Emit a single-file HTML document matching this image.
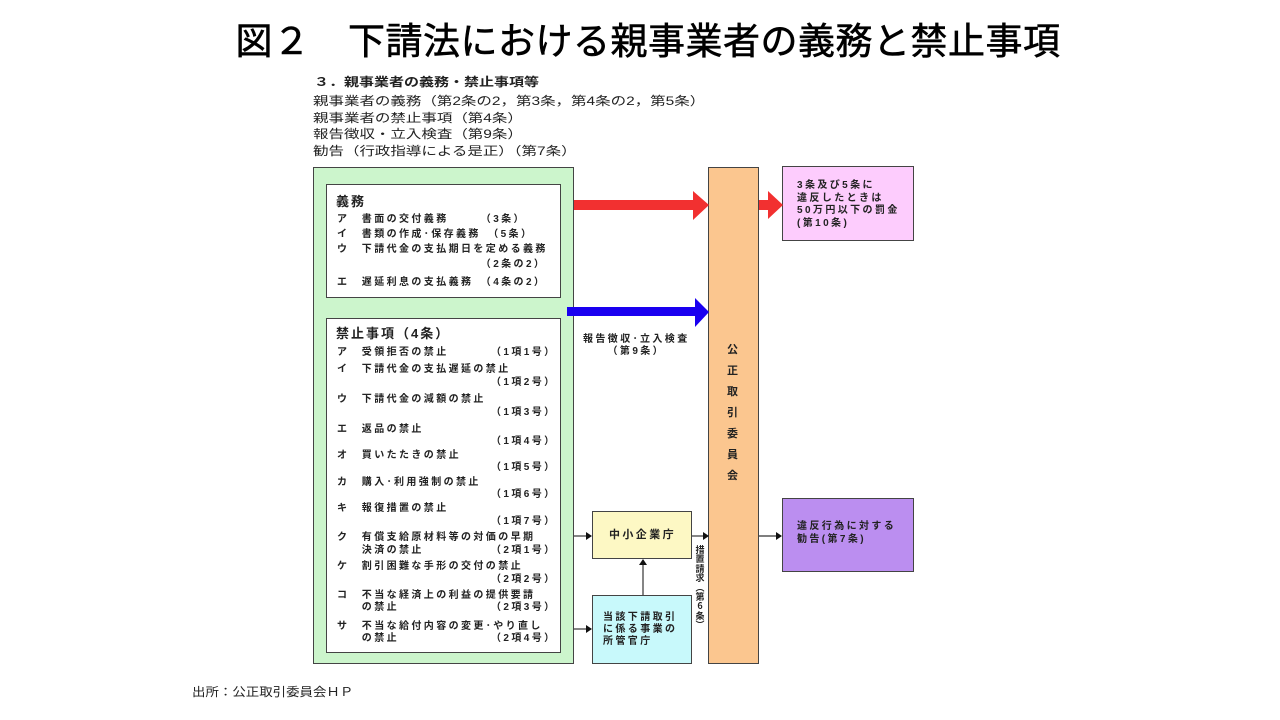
<!DOCTYPE html>
<html><head><meta charset="utf-8">
<style>
body{margin:0;width:1280px;height:720px;background:#fff;position:relative;overflow:hidden;font-family:"Liberation Sans","Noto Sans CJK JP",sans-serif;color:#222}
.a{position:absolute;white-space:nowrap}
.box{position:absolute;box-sizing:border-box;border:1.5px solid #444}
.s{font-size:10px;font-weight:bold;line-height:12px;letter-spacing:2.4px}
</style></head><body>
<div class="a" style="left:8px;width:1280px;text-align:center;top:18px;font-size:37px;line-height:48px;color:#000;font-weight:normal;letter-spacing:0.5px;-webkit-text-stroke:0.6px #000">図２　下請法における親事業者の義務と禁止事項</div>
<div class="a" style="left:314px;top:74px;font-size:12px;font-weight:bold;line-height:16px;transform:scaleX(1.25);transform-origin:left">３．親事業者の義務・禁止事項等</div>
<div class="a" style="left:313px;top:93px;font-size:12px;line-height:16.7px;transform:scaleX(1.29);transform-origin:left">親事業者の義務（第2条の2，第3条，第4条の2，第5条）<br>親事業者の禁止事項（第4条）<br>報告徴収・立入検査（第9条）<br>勧告（行政指導による是正）（第7条）</div>

<div class="box" style="left:313px;top:167px;width:261px;height:497px;background:#ccf5cc"></div>
<div class="box" style="left:326px;top:184px;width:235px;height:114px;background:#fff"></div>
<div class="a" style="left:336px;top:191px;font-size:13px;font-weight:bold;letter-spacing:2px">義務</div>
<div class="a s" style="left:337px;top:212px;line-height:15px">ア　書面の交付義務　　　（3条）<br>イ　書類の作成･保存義務　（5条）<br>ウ　下請代金の支払期日を定める義務<br>　　　　　　　　　　　　（2条の2）</div>
<div class="a s" style="left:337px;top:277px">エ　遅延利息の支払義務　（4条の2）</div>

<div class="box" style="left:326px;top:318px;width:235px;height:335px;background:#fff"></div>
<div class="a" style="left:336px;top:323px;font-size:13px;font-weight:bold;letter-spacing:2px">禁止事項（4条）</div>
<div class="a s" style="left:337px;top:347px;line-height:12.4px">
ア　受領拒否の禁止　　　 （1項1号）<br><div style="height:5px"></div>
イ　下請代金の支払遅延の禁止<br>　　　　　　　　　　　　 （1項2号）<br><div style="height:5px"></div>
ウ　下請代金の減額の禁止<br>　　　　　　　　　　　　 （1項3号）<br><div style="height:5px"></div>
エ　返品の禁止<br>　　　　　　　　　　　　 （1項4号）<br><div style="height:1px"></div>
オ　買いたたきの禁止<br>　　　　　　　　　　　　 （1項5号）<br><div style="height:2px"></div>
カ　購入･利用強制の禁止<br>　　　　　　　　　　　　 （1項6号）<br><div style="height:2px"></div>
キ　報復措置の禁止<br>　　　　　　　　　　　　 （1項7号）<br><div style="height:4px"></div>
ク　有償支給原材料等の対価の早期<br>　　決済の禁止　　　　　 （2項1号）<br><div style="height:4px"></div>
ケ　割引困難な手形の交付の禁止<br>　　　　　　　　　　　　 （2項2号）<br><div style="height:4px"></div>
コ　不当な経済上の利益の提供要請<br>　　の禁止　　　　　　　 （2項3号）<br><div style="height:6px"></div>
サ　不当な給付内容の変更･やり直し<br>　　の禁止　　　　　　　 （2項4号）</div>

<div class="box" style="left:708px;top:167px;width:51px;height:497px;background:#fbc68f"></div>
<div class="a s" style="left:727px;top:340px;width:14px;white-space:normal;line-height:21px;font-size:11px;letter-spacing:0">公正取引委員会</div>

<div class="box" style="left:782px;top:166px;width:132px;height:75px;background:#fdccfd"></div>
<div class="a s" style="left:797px;top:180px;line-height:12.5px">3条及び5条に<br>違反したときは<br>50万円以下の罰金<br>(第10条)</div>
<div class="box" style="left:782px;top:498px;width:132px;height:74px;background:#bb8ef0"></div>
<div class="a s" style="left:797px;top:521px;line-height:12.5px">違反行為に対する<br>勧告(第7条)</div>

<div class="box" style="left:592px;top:511px;width:100px;height:48px;background:#fdf8c4"></div>
<div class="a s" style="left:609px;top:529px;font-size:11px">中小企業庁</div>
<div class="box" style="left:592px;top:595px;width:100px;height:69px;background:#c8f9fb"></div>
<div class="a s" style="left:603px;top:612px;line-height:12px">当該下請取引<br>に係る事業の<br>所管官庁</div>

<div class="a s" style="left:583px;top:334px;line-height:12px;text-align:center">報告徴収･立入検査<br>（第9条）</div>
<div class="a" style="left:695px;top:545px;font-size:9px;font-weight:bold;line-height:9.4px;text-align:center;width:10px;font-family:'Noto Sans CJK JP',sans-serif">措<br>置<br>請<br>求<br>︵<br>第<br>6<br>条<br>︶</div>

<div class="a" style="left:192px;top:683px;font-size:12px;transform:scaleX(1.12);transform-origin:left">出所：公正取引委員会ＨＰ</div>

<svg width="1280" height="720" style="position:absolute;left:0;top:0">
<polygon points="574,200 693,200 693,191 709,205 693,220 693,210 574,210" fill="#f23030"/>
<polygon points="759,200 768,200 768,191 783,205 768,219 768,210 759,210" fill="#f23030"/>
<polygon points="567,307 695,307 695,298 709,312 695,327 695,316 567,316" fill="#1a00f0"/>
<g stroke="#333" stroke-width="1.2" fill="#111">
<line x1="574" y1="536" x2="586" y2="536"/><polygon points="586,532 592,536 586,540" stroke="none"/>
<line x1="574" y1="629" x2="586" y2="629"/><polygon points="586,625 592,629 586,633" stroke="none"/>
<line x1="692" y1="536" x2="703" y2="536"/><polygon points="703,532 709,536 703,540" stroke="none"/>
<line x1="759" y1="536" x2="776" y2="536"/><polygon points="776,532 782,536 776,540" stroke="none"/>
<line x1="643" y1="595" x2="643" y2="565"/><polygon points="639,565 643,559 647,565" stroke="none"/>
</g>
</svg>
</body></html>
